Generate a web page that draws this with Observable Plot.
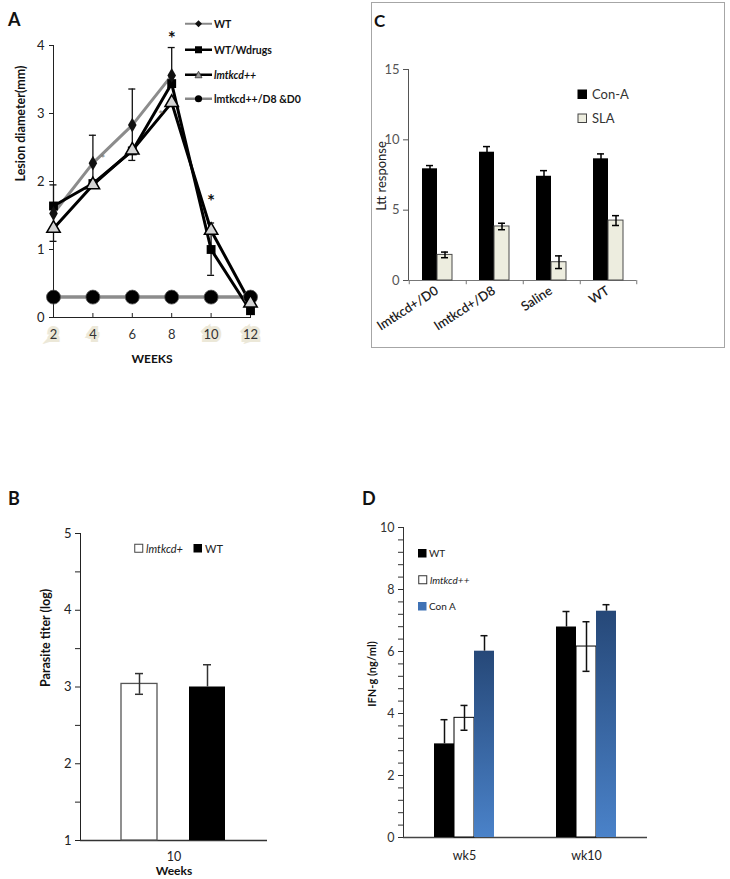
<!DOCTYPE html>
<html><head><meta charset="utf-8">
<script src="https://cdn.jsdelivr.net/npm/d3@7"></script>
<script src="https://cdn.jsdelivr.net/npm/@observablehq/plot@0.6"></script>
<style>
body{margin:0;background:#fff;}
#fig{position:relative;width:730px;height:879px;font-family:Lato,"Open Sans",sans-serif;overflow:hidden;background:#fff;}
#fig svg{position:absolute;overflow:visible;}
.lbl{position:absolute;transform:translateY(-50%);line-height:1;white-space:nowrap;color:#111;}
.vlbl{position:absolute;line-height:1;white-space:nowrap;color:#111;transform:translate(-50%,-50%) rotate(-90deg);}
.lg{position:absolute;transform:translateY(-50%);line-height:1;white-space:nowrap;display:flex;align-items:center;gap:2px;}
.lg svg{position:static !important;}
</style></head><body><div id="fig"></div>
<script>
// ---------- Panel A: lesion diameter ----------
const weeks = [2, 4, 6, 8, 10, 12];
const highlightWeeks = [2, 4, 10, 12];
const wtWeeks = [2, 4, 6, 8];
const wtDiam = [1.53, 2.27, 2.83, 3.56];
const wtDrugDiam = [1.64, 1.97, 2.45, 3.44, 1.0, 0.1];
const kdDiam = [1.31, 1.95, 2.46, 3.16, 1.28, 0.21];
const kdDrugDiam = [0.3, 0.3, 0.3, 0.3, 0.3, 0.3];
const errWeeksA = [2, 4, 6, 8, 10];
const errLowA = [1.12, 1.9, 2.31, 3.44, 0.62];
const errHighA = [1.95, 2.68, 3.36, 3.97, 1.39];
const sigWeeks = [8, 10];
const sigVals = [4.1, 1.7];
const minorSigWeeks = [4.5, 7.45];
const minorSigVals = [2.33, 2.98];
const seriesA = ["WT", "WT/Wdrugs", "lmtkcd++", "lmtkcd++/D8 &D0"];
const yTicksA = [0, 1, 2, 3, 4];

// ---------- Panel B: parasite titer ----------
const titerGroups = ["lmtkcd+", "WT"];
const titerMean = [3.04, 3.0];
const titerErr = [0.135, 0.29];
const titerTicks = [1, 2, 3, 4, 5];

// ---------- Panel C: Ltt response ----------
const lttGroups = ["lmtkcd+/D0", "lmtkcd+/D8", "Saline", "WT"];
const lttSeries = ["Con-A", "SLA"];
const lttConA = [7.94, 9.12, 7.41, 8.65];
const lttConAErr = [0.23, 0.4, 0.4, 0.35];
const lttSLA = [1.82, 3.84, 1.3, 4.26];
const lttSLAErr = [0.2, 0.23, 0.45, 0.35];
const lttTicks = [0, 5, 10, 15];

// ---------- Panel D: IFN-g ----------
const ifnWeeks = ["wk5", "wk10"];
const ifnSeries = ["WT", "lmtkcd++", "Con A"];
const ifnWT = [3.02, 6.79];
const ifnWTErr = [0.78, 0.5];
const ifnKd = [3.86, 6.16];
const ifnKdErr = [0.4, 0.8];
const ifnConA = [6.01, 7.3];
const ifnConAErr = [0.5, 0.21];
const ifnTicks = [0, 2, 4, 6, 8, 10];

const FONT = "Lato, 'Open Sans', sans-serif";
const fig = document.getElementById("fig");
function put(node, left, top) { node.style.left = left + "px"; node.style.top = top + "px"; fig.appendChild(node); return node; }
function label(text, x, y, css = "", cls = "lbl") {
  const d = document.createElement("div"); d.className = cls; d.textContent = text;
  d.style.cssText += `left:${x}px;top:${y}px;` + css; fig.appendChild(d); return d;
}
function legendItem(swatchSvg, text, x, y, css = "") {
  const d = document.createElement("div"); d.className = "lg";
  d.style.cssText += `left:${x}px;top:${y}px;` + css;
  d.innerHTML = swatchSvg; const s = document.createElement("span"); s.textContent = text; d.appendChild(s);
  fig.appendChild(d); return d;
}
const near = (a, b) => Math.abs(a - b) < 1e-6;
function withMinor(major, step) {
  const lo = major[0], hi = major[major.length - 1];
  return d3.range(Math.round((hi - lo) / step) + 1).map(i => lo + i * step);
}
const majorFmt = major => d => major.some(m => near(m, d)) ? String(Math.round(d)) : "";

// ===== Panel A =====
const rowsA = (wks, vals) => wks.map((w, i) => ({week: w, v: vals[i]}));
const wtRows = rowsA(wtWeeks, wtDiam);
const wtDrugRows = rowsA(weeks, wtDrugDiam);
const kdRows = rowsA(weeks, kdDiam);
const kdDrugRows = rowsA(weeks, kdDrugDiam);
const errA = errWeeksA.map((w, i) => ({week: w, lo: errLowA[i], hi: errHighA[i]}));

const plotA = Plot.plot({
  width: 300, height: 380, marginLeft: 53, marginRight: 50, marginTop: 45, marginBottom: 63,
  style: {fontFamily: FONT, fontSize: "13px", color: "#222", background: "transparent"},
  x: {domain: [2, 12], ticks: weeks, tickSize: -4, tickFormat: () => "", line: true, label: null},
  y: {domain: [0, 4], ticks: yTicksA, tickFormat: d => String(d), tickSize: 4, tickPadding: 5, line: true, label: null},
  marks: [
    Plot.text(highlightWeeks, {x: d => d, y: 0, dy: 12, lineAnchor: "top", text: d => String(d), fill: "#ece8d8", stroke: "#ece8d8", strokeWidth: 6, strokeLinejoin: "miter", fontSize: 13}),
    Plot.text(weeks, {x: d => d, y: 0, dy: 12, lineAnchor: "top", text: d => String(d), fill: "#333", fontSize: 13}),
    Plot.text(["WEEKS"], {frameAnchor: "bottom", dy: 45, text: d => d, fontWeight: "bold", fontSize: 12, fill: "#111"}),
    Plot.text(["Lesion diameter(mm)"], {frameAnchor: "left", dx: -33, rotate: -90, text: d => d, fontWeight: "bold", fontSize: 12.5, fill: "#111"}),
    Plot.line(kdDrugRows, {x: "week", y: "v", stroke: "#8c8c8c", strokeWidth: 3.5}),
    Plot.ruleX(errA, {x: "week", y1: "lo", y2: "hi", stroke: "#111", strokeWidth: 1.3}),
    Plot.ruleY(errA, {y: "hi", x1: "week", x2: "week", insetLeft: -3.5, insetRight: -3.5, stroke: "#111", strokeWidth: 1.3}),
    Plot.ruleY(errA, {y: "lo", x1: "week", x2: "week", insetLeft: -3.5, insetRight: -3.5, stroke: "#111", strokeWidth: 1.3}),
    Plot.line(wtRows, {x: "week", y: "v", stroke: "#8c8c8c", strokeWidth: 3}),
    Plot.line(kdRows, {x: "week", y: "v", stroke: "#000", strokeWidth: 3}),
    Plot.line(wtDrugRows, {x: "week", y: "v", stroke: "#000", strokeWidth: 3}),
    Plot.dot(kdDrugRows, {x: "week", y: "v", r: 7, fill: "#000", stroke: "#555", strokeWidth: 0.8}),
    Plot.dot(wtDrugRows, {x: "week", y: "v", symbol: "square", r: 5, fill: "#000"}),
    Plot.dot(kdRows, {x: "week", y: "v", symbol: "triangle", r: 5, fill: "#d4d4d4", stroke: "#000", strokeWidth: 1.5}),
    Plot.dot(wtRows, {x: "week", y: "v", symbol: "diamond", r: 4.5, fill: "#111"}),
    Plot.text(sigWeeks.map((w, i) => ({w, v: sigVals[i]})), {x: "w", y: "v", text: () => "*", fontSize: 19, fontWeight: "bold", fill: "#111"}),
    Plot.text(minorSigWeeks.map((w, i) => ({w, v: minorSigVals[i]})), {x: "w", y: "v", text: () => "*", fontSize: 12, fill: "#777"})
  ]
});
put(plotA, 0, 0);
label("A", 8, 19, "font-weight:bold;font-size:18px;");
const legA = [
  {t: seriesA[0], sw: `<svg width="27" height="10"><line x1="0" y1="5" x2="27" y2="5" stroke="#888" stroke-width="2"/><path d="M13.5,1.5L17,5L13.5,8.5L10,5Z" fill="#111"/></svg>`, css: ""},
  {t: seriesA[1], sw: `<svg width="27" height="10"><line x1="0" y1="5" x2="27" y2="5" stroke="#000" stroke-width="2.5"/><rect x="10" y="1.5" width="7" height="7" fill="#000"/></svg>`, css: ""},
  {t: seriesA[2], sw: `<svg width="27" height="10"><line x1="0" y1="5" x2="27" y2="5" stroke="#000" stroke-width="2.5"/><path d="M13.5,1.5L17,8L10,8Z" fill="#999" stroke="#333" stroke-width="0.8"/></svg>`, css: "font-style:italic;"},
  {t: seriesA[3], sw: `<svg width="27" height="10"><line x1="0" y1="5" x2="27" y2="5" stroke="#888" stroke-width="2.5"/><circle cx="13.5" cy="5" r="3.6" fill="#000"/></svg>`, css: ""}
];
[24, 50, 75, 99].forEach((y, i) => legendItem(legA[i].sw, legA[i].t, 185, y, "font-size:10.5px;font-weight:bold;color:#111;" + legA[i].css));

// ===== Panel B =====
const titerRows = titerGroups.map((g, i) => ({g, m: titerMean[i], e: titerErr[i]}));
const plotB = Plot.plot({
  width: 300, height: 459, marginLeft: 80, marginRight: 33, marginTop: 113, marginBottom: 39,
  style: {fontFamily: FONT, fontSize: "13px", color: "#222", background: "transparent"},
  x: {domain: titerGroups, paddingInner: 0.47, paddingOuter: 0.61, axis: null},
  y: {domain: [1, 5], ticks: withMinor(titerTicks, 0.5), tickFormat: majorFmt(titerTicks), tickSize: 5, tickPadding: 4, line: true, label: null},
  marks: [
    Plot.ruleY([1], {stroke: "#333", strokeWidth: 1.3}),
    Plot.barY(titerRows, {filter: d => d.g === titerGroups[0], x: "g", y1: 1, y2: "m", fill: "#fff", stroke: "#555", strokeWidth: 1.3}),
    Plot.barY(titerRows, {filter: d => d.g === titerGroups[1], x: "g", y1: 1, y2: "m", fill: "#000"}),
    Plot.ruleX(titerRows, {x: "g", y1: d => d.g === titerGroups[0] ? d.m - d.e : d.m, y2: d => d.m + d.e, stroke: "#333", strokeWidth: 1.5}),
    Plot.tickY(titerRows, {x: "g", y: d => d.m + d.e, inset: 14, stroke: "#333", strokeWidth: 1.5}),
    Plot.tickY(titerRows.filter(d => d.g === titerGroups[0]), {x: "g", y: d => d.m - d.e, inset: 14, stroke: "#333", strokeWidth: 1.5}),
    Plot.text(["10"], {frameAnchor: "bottom", dy: 20, text: d => d, fontSize: 12.5, fill: "#222"}),
    Plot.text(["Weeks"], {frameAnchor: "bottom", dy: 34, text: d => d, fontSize: 12, fontWeight: "bold", fill: "#111"}),
    Plot.text(["Parasite titer (log)"], {frameAnchor: "left", dx: -35, rotate: -90, text: d => d, fontSize: 12.5, fontWeight: "bold", fill: "#111"})
  ]
});
put(plotB, 0, 420);
label("B", 8, 498, "font-weight:bold;font-size:18px;");
legendItem(`<svg width="10" height="10"><rect x="0.75" y="0.75" width="8" height="8" fill="#fff" stroke="#444" stroke-width="1"/></svg>`, titerGroups[0], 134, 548, "font-size:11px;font-style:italic;color:#222;");
legendItem(`<svg width="10" height="10"><rect x="0.5" y="0.5" width="8.5" height="8.5" fill="#000"/></svg>`, titerGroups[1], 193, 548, "font-size:11px;color:#222;");

// ===== Panel C =====
const lttRows = lttGroups.flatMap((g, i) => [
  {g, s: lttSeries[0], v: lttConA[i], e: lttConAErr[i]},
  {g, s: lttSeries[1], v: lttSLA[i], e: lttSLAErr[i]}
]);
const boxC = document.createElement("div");
boxC.style.cssText = "position:absolute;left:371px;top:2px;width:352px;height:344px;border:1.5px solid #a6a6a6;";
fig.appendChild(boxC);
const plotC = Plot.plot({
  width: 370, height: 352, marginLeft: 47, marginRight: 93, marginTop: 69, marginBottom: 72,
  style: {fontFamily: FONT, fontSize: "13px", color: "#555", background: "transparent"},
  fx: {domain: lttGroups, padding: 0, label: null},
  x: {domain: lttSeries, paddingInner: 0, paddingOuter: 0.797, axis: null},
  y: {domain: [0, 15], ticks: lttTicks, tickSize: 5, tickPadding: 4, line: true, label: null},
  marks: [
    Plot.axisFx({anchor: "bottom", tickSize: 0, tickPadding: 9, tickRotate: -33, fontSize: 13, fontWeight: 600, fill: "#222", label: null}),
    Plot.ruleY([0], {stroke: "#777", strokeWidth: 1.2}),
    Plot.ruleX(lttRows, {filter: d => d.s === lttSeries[0], fx: "g", x: "s", y1: 0, y2: -0.3, dx: -20.75, stroke: "#777"}),
    Plot.ruleX(lttRows.slice(-1), {fx: "g", x: "s", y1: 0, y2: -0.3, dx: 20.75, stroke: "#777"}),
    Plot.barY(lttRows, {filter: d => d.s === lttSeries[0], fx: "g", x: "s", y: "v", fill: "#000"}),
    Plot.barY(lttRows, {filter: d => d.s === lttSeries[1], fx: "g", x: "s", y: "v", fill: "#ededdf", stroke: "#4a4a4a", strokeWidth: 1}),
    Plot.ruleX(lttRows, {fx: "g", x: "s", y1: d => d.v - d.e, y2: d => d.v + d.e, stroke: "#000", strokeWidth: 1.5}),
    Plot.tickY(lttRows, {fx: "g", x: "s", y: d => d.v + d.e, inset: 4, stroke: "#000", strokeWidth: 1.5}),
    Plot.tickY(lttRows, {filter: d => d.s === lttSeries[1], fx: "g", x: "s", y: d => d.v - d.e, inset: 4, stroke: "#000", strokeWidth: 1.5})
  ]
});
put(plotC, 360, 0);
label("C", 374, 20, "font-weight:bold;font-size:17px;");
label("Ltt response", 381, 176, "font-size:13px;color:#222;", "vlbl");
legendItem(`<svg width="11" height="11"><rect x="0.5" y="1" width="9.5" height="9.5" fill="#000"/></svg>`, lttSeries[0], 577, 94, "font-size:13px;color:#333;gap:4px;");
legendItem(`<svg width="11" height="11"><rect x="1" y="1.5" width="8.5" height="8.5" fill="#ededdf" stroke="#444" stroke-width="1"/></svg>`, lttSeries[1], 577, 118, "font-size:13px;color:#333;gap:4px;");

// ===== Panel D =====
const ifnRows = ifnWeeks.flatMap((w, i) => [
  {w, s: ifnSeries[0], v: ifnWT[i], e: ifnWTErr[i]},
  {w, s: ifnSeries[1], v: ifnKd[i], e: ifnKdErr[i]},
  {w, s: ifnSeries[2], v: ifnConA[i], e: ifnConAErr[i]}
]);
const plotD = Plot.plot({
  width: 375, height: 459, marginLeft: 47, marginRight: 83, marginTop: 107, marginBottom: 42,
  style: {fontFamily: FONT, fontSize: "12.5px", color: "#333", background: "transparent"},
  fx: {domain: ifnWeeks, padding: 0, label: null},
  x: {domain: ifnSeries, paddingInner: 0, paddingOuter: 1.417, axis: null},
  y: {domain: [0, 10], ticks: withMinor(ifnTicks, 0.4), tickFormat: majorFmt(ifnTicks), tickSize: 5, tickPadding: 4, line: true, label: null},
  marks: [
    Plot.axisFx({anchor: "bottom", tickSize: 0, tickPadding: 14, fontSize: 12.5, fill: "#222", label: null}),
    Plot.ruleY([0], {stroke: "#444", strokeWidth: 1.3}),
    Plot.barY(ifnRows, {filter: d => d.s === ifnSeries[0], fx: "w", x: "s", y: "v", fill: "#000"}),
    Plot.barY(ifnRows, {filter: d => d.s === ifnSeries[1], fx: "w", x: "s", y: "v", fill: "#fff", stroke: "#000", strokeWidth: 1}),
    Plot.barY(ifnRows, {filter: d => d.s === ifnSeries[2], fx: "w", x: "s", y: "v", fill: "url(#gradConA)"}),
    Plot.ruleX(ifnRows, {fx: "w", x: "s", y1: d => d.s === ifnSeries[1] ? d.v - d.e : d.v, y2: d => d.v + d.e, stroke: "#111", strokeWidth: 1.5}),
    Plot.tickY(ifnRows, {fx: "w", x: "s", y: d => d.v + d.e, inset: 6.5, stroke: "#111", strokeWidth: 1.5}),
    Plot.tickY(ifnRows, {filter: d => d.s === ifnSeries[1], fx: "w", x: "s", y: d => d.v - d.e, inset: 6.5, stroke: "#111", strokeWidth: 1.5})
  ]
});
const NS = "http://www.w3.org/2000/svg";
const defs = document.createElementNS(NS, "defs");
const grad = document.createElementNS(NS, "linearGradient");
grad.setAttribute("id", "gradConA"); grad.setAttribute("x1", "0"); grad.setAttribute("y1", "0"); grad.setAttribute("x2", "0"); grad.setAttribute("y2", "1");
[["0%", "#264878"], ["100%", "#4a82c9"]].forEach(([o, c]) => {
  const st = document.createElementNS(NS, "stop"); st.setAttribute("offset", o); st.setAttribute("stop-color", c); grad.appendChild(st);
});
defs.appendChild(grad);
const svgD = plotD.tagName.toLowerCase() === "svg" ? plotD : plotD.querySelector("svg");
svgD.insertBefore(defs, svgD.firstChild);
put(plotD, 355, 420);
label("D", 362, 498, "font-weight:bold;font-size:18px;");
label("IFN-g (ng/ml)", 371, 674, "font-size:11px;font-weight:bold;color:#111;", "vlbl");
legendItem(`<svg width="9" height="9"><rect x="0" y="0" width="8.5" height="8.5" fill="#000"/></svg>`, ifnSeries[0], 418, 553, "font-size:10px;color:#222;");
legendItem(`<svg width="10" height="10"><rect x="0.75" y="0.75" width="8" height="8" fill="#fff" stroke="#333" stroke-width="1"/></svg>`, ifnSeries[1], 418, 580, "font-size:10px;font-style:italic;color:#222;");
legendItem(`<svg width="9" height="9"><rect x="0" y="0" width="8.5" height="8.5" fill="#3f72b5"/></svg>`, ifnSeries[2], 418, 606, "font-size:10px;color:#222;");
</script></body></html>
